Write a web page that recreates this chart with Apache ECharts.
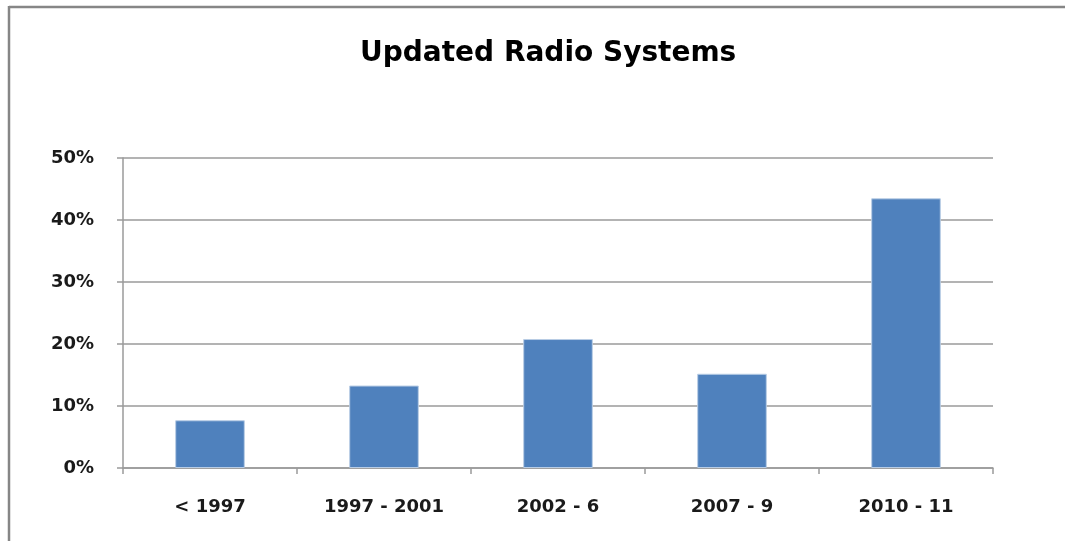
<!DOCTYPE html>
<html>
<head>
<meta charset="utf-8">
<title>Updated Radio Systems</title>
<script src="https://cdn.jsdelivr.net/npm/echarts@6/dist/echarts.min.js"></script>
<style>
  html, body { margin: 0; padding: 0; background: #ffffff; }
  #chart { width: 1065px; height: 541px; }
</style>
</head>
<body>
<div id="chart"></div>
<script>
// Share of updated radio systems by installation period
const categories = ['< 1997', '1997 - 2001', '2002 - 6', '2007 - 9', '2010 - 11'];
const shares = [0.077, 0.133, 0.208, 0.152, 0.435];
const yTicks = [0, 0.1, 0.2, 0.3, 0.4, 0.5];

const FONT = '"DejaVu Sans", "Open Sans", sans-serif';

const chart = echarts.init(document.getElementById('chart'), null, { renderer: 'canvas' });

chart.setOption({
  backgroundColor: '#ffffff',
  animation: false,
  title: {
    text: 'Updated Radio Systems',
    left: 355,
    top: 35,
    textStyle: { fontFamily: FONT, fontSize: 28, fontWeight: 'bold', color: '#000000' }
  },
  grid: { left: 123, right: 72, top: 158, bottom: 73 },
  xAxis: {
    type: 'category',
    data: categories,
    boundaryGap: true,
    axisLine: { lineStyle: { color: '#9a9a9a', width: 1.5 } },
    axisTick: { show: true, length: 6, alignWithLabel: false, lineStyle: { color: '#9a9a9a', width: 1.5 } },
    axisLabel: { margin: 30, fontFamily: FONT, fontSize: 18, fontWeight: 'bold', color: '#1a1a1a' }
  },
  yAxis: {
    type: 'value',
    min: yTicks[0],
    max: yTicks[yTicks.length - 1],
    interval: 0.1,
    axisLine: { show: true, lineStyle: { color: '#9a9a9a', width: 1.5 } },
    axisTick: { show: true, length: 6, lineStyle: { color: '#9a9a9a', width: 1.5 } },
    splitLine: { show: true, lineStyle: { color: '#9a9a9a', width: 1.5 } },
    axisLabel: {
      margin: 29,
      fontFamily: FONT,
      fontSize: 18,
      fontWeight: 'bold',
      color: '#1a1a1a',
      formatter: v => Math.round(v * 100) + '%'
    }
  },
  series: [{
    type: 'bar',
    data: shares,
    barWidth: '40%',
    itemStyle: { color: '#4f81bd', borderColor: '#b9cde5', borderWidth: 1 }
  }],
  graphic: [
    // chart frame: top and left edges
    { type: 'line', shape: { x1: 9, y1: 7, x2: 1065, y2: 7 }, style: { stroke: '#868686', lineWidth: 2.5 }, silent: true },
    { type: 'line', shape: { x1: 9, y1: 6, x2: 9, y2: 541 }, style: { stroke: '#868686', lineWidth: 2.5 }, silent: true }
  ]
});
</script>
</body>
</html>
